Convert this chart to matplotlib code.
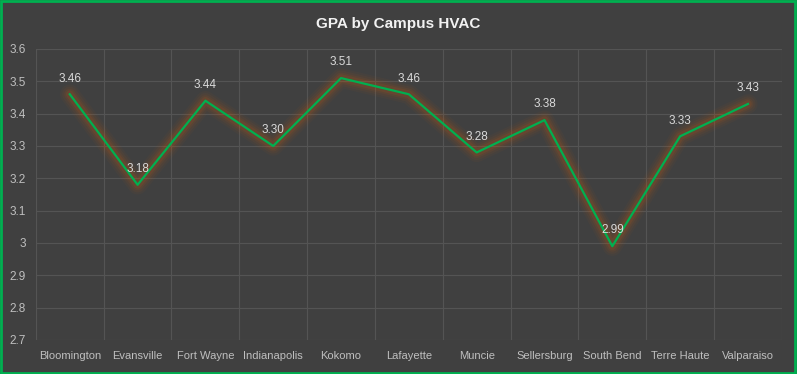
import numpy as np
import matplotlib.pyplot as plt
from matplotlib.ticker import FuncFormatter

campuses = ['Bloomington', 'Evansville', 'Fort Wayne', 'Indianapolis', 'Kokomo',
            'Lafayette', 'Muncie', 'Sellersburg', 'South Bend', 'Terre Haute', 'Valparaiso']
gpa = [3.46, 3.18, 3.44, 3.30, 3.51, 3.46, 3.28, 3.38, 2.99, 3.33, 3.43]

plt.rcParams['font.family'] = ['Liberation Sans', 'DejaVu Sans']

bg = '#404040'
fig = plt.figure(figsize=(7.97, 3.74), dpi=100, facecolor=bg)
ax = fig.add_axes([0.045, 0.091, 0.936, 0.778], facecolor=bg)

x = np.arange(len(campuses))

# orange glow under the line
for lw, a in [(14, 0.05), (11, 0.07), (8, 0.09), (5.5, 0.13)]:
    ax.plot(x, gpa, color='#c55a11', lw=lw, alpha=a, solid_joinstyle='round',
            solid_capstyle='round', zorder=2)
ax.plot(x, gpa, color='#00b050', lw=1.6, zorder=3)

for xi, v in zip(x, gpa):
    ax.annotate(f'{v:.2f}', (xi, v), xytext=(0, 7), textcoords='offset points',
                ha='center', va='bottom', color='#d9d9d9', fontsize=8.5, zorder=4)

ax.set_xlim(-0.5, len(campuses) - 0.5)
ax.set_ylim(2.7, 3.6)
ax.set_yticks(np.arange(2.7, 3.61, 0.1))
ax.yaxis.set_major_formatter(FuncFormatter(lambda v, p: f'{v:.1f}'.rstrip('0').rstrip('.')))
ax.set_xticks(x)
ax.set_xticklabels(campuses)
ax.set_xticks(np.arange(-0.5, len(campuses), 1), minor=True)

ax.grid(True, axis='y', which='major', color='#545454', lw=0.8)
ax.grid(True, axis='x', which='minor', color='#545454', lw=0.8)
ax.grid(False, axis='x', which='major')
ax.set_axisbelow(True)
for s in ax.spines.values():
    s.set_visible(False)
ax.tick_params(which='both', length=0, colors='#bfbfbf', labelsize=8.5)
ax.tick_params(axis='x', pad=8, labelsize=8)
ax.tick_params(axis='y', pad=7)

fig.text(0.5, 0.935, 'GPA by Campus HVAC', ha='center', va='center',
         color='#f2f2f2', fontsize=11, fontweight='bold')

# green outer border
fig.patches.append(plt.Rectangle((0.001, 0.002), 0.997, 0.995, transform=fig.transFigure,
                                 fill=False, edgecolor='#00b050', lw=2))

fig.savefig('out.png', dpi=100, facecolor=bg)
